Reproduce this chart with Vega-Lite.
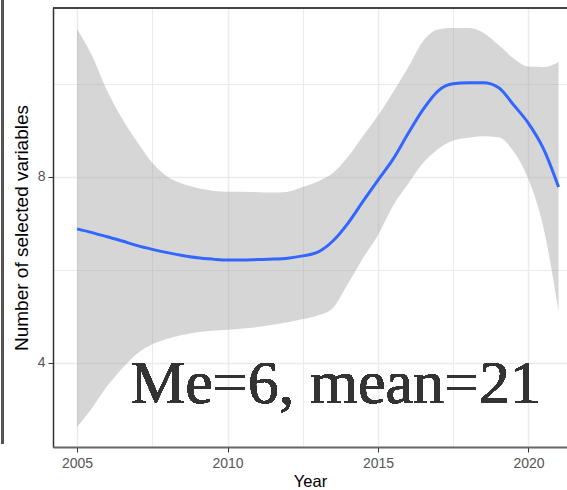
{
  "$schema": "https://vega.github.io/schema/vega-lite/v6.json",
  "width": 514,
  "height": 439,
  "autosize": {"type": "none"},
  "padding": {"left": 53, "top": 8, "right": 0, "bottom": 43},
  "background": "white",
  "config": {
    "view": {"stroke": null},
    "axis": {
      "labelFont": "Liberation Sans",
      "titleFont": "Liberation Sans",
      "labelColor": "#555555",
      "labelFontSize": 14,
      "titleColor": "#000000",
      "titleFontWeight": "normal",
      "tickColor": "#333333",
      "tickSize": 5,
      "domainColor": "#333333",
      "domainWidth": 1.5,
      "gridColor": "#ebebeb"
    }
  },
  "data": {
    "values": [
      {"year": 2005, "lo": 2.62, "fit": 6.88, "hi": 11.18},
      {"year": 2005.5, "lo": 3.03, "fit": 6.80, "hi": 10.6},
      {"year": 2006, "lo": 3.5, "fit": 6.71, "hi": 9.85},
      {"year": 2006.5, "lo": 3.88, "fit": 6.62, "hi": 9.25},
      {"year": 2007, "lo": 4.2, "fit": 6.52, "hi": 8.75},
      {"year": 2007.5, "lo": 4.4, "fit": 6.44, "hi": 8.3},
      {"year": 2008, "lo": 4.52, "fit": 6.37, "hi": 8.0},
      {"year": 2008.5, "lo": 4.6, "fit": 6.31, "hi": 7.85},
      {"year": 2009, "lo": 4.66, "fit": 6.26, "hi": 7.76},
      {"year": 2009.5, "lo": 4.69, "fit": 6.23, "hi": 7.7},
      {"year": 2010, "lo": 4.71, "fit": 6.21, "hi": 7.68},
      {"year": 2010.5, "lo": 4.74, "fit": 6.21, "hi": 7.68},
      {"year": 2011, "lo": 4.77, "fit": 6.22, "hi": 7.67},
      {"year": 2011.5, "lo": 4.82, "fit": 6.23, "hi": 7.66},
      {"year": 2012, "lo": 4.87, "fit": 6.25, "hi": 7.68},
      {"year": 2012.5, "lo": 4.94, "fit": 6.30, "hi": 7.78},
      {"year": 2013, "lo": 5.02, "fit": 6.38, "hi": 7.90},
      {"year": 2013.5, "lo": 5.18, "fit": 6.62, "hi": 8.08},
      {"year": 2014, "lo": 5.70, "fit": 7.00, "hi": 8.43},
      {"year": 2014.5, "lo": 6.25, "fit": 7.47, "hi": 8.88},
      {"year": 2015, "lo": 6.75, "fit": 7.93, "hi": 9.32},
      {"year": 2015.5, "lo": 7.38, "fit": 8.38, "hi": 9.82},
      {"year": 2016, "lo": 7.85, "fit": 8.93, "hi": 10.35},
      {"year": 2016.5, "lo": 8.30, "fit": 9.45, "hi": 10.92},
      {"year": 2017, "lo": 8.60, "fit": 9.85, "hi": 11.17},
      {"year": 2017.5, "lo": 8.78, "fit": 10.00, "hi": 11.20},
      {"year": 2018, "lo": 8.84, "fit": 10.02, "hi": 11.20},
      {"year": 2018.5, "lo": 8.87, "fit": 10.02, "hi": 11.10},
      {"year": 2019, "lo": 8.85, "fit": 9.92, "hi": 10.84},
      {"year": 2019.5, "lo": 8.55, "fit": 9.55, "hi": 10.55},
      {"year": 2020, "lo": 7.94, "fit": 9.15, "hi": 10.37},
      {"year": 2020.5, "lo": 6.90, "fit": 8.60, "hi": 10.36},
      {"year": 2021, "lo": 5.10, "fit": 7.78, "hi": 10.47}
    ]
  },
  "layer": [
    {
      "mark": {"type": "area", "color": "#999999", "opacity": 0.4, "interpolate": "monotone"},
      "encoding": {
        "x": {
          "field": "year", "type": "quantitative", "title": "Year",
          "scale": {"domain": [2004.2, 2021.28], "nice": false, "zero": false},
          "axis": {
            "values": [2005, 2007.5, 2010, 2012.5, 2015, 2017.5, 2020],
            "format": "d",
            "labelExpr": "datum.value % 5 === 0 ? datum.label : ''",
            "tickOpacity": {"condition": {"test": "datum.value % 5 === 0", "value": 1}, "value": 0},
            "gridWidth": {"condition": {"test": "datum.value % 5 === 0", "value": 1.5}, "value": 1},
            "grid": true,
            "labelPadding": 4,
            "titleFontSize": 16.5,
            "titlePadding": 3,
            "domainColor": "#666666",
            "domainWidth": 2
          }
        },
        "y": {
          "field": "lo", "type": "quantitative", "title": "Number of selected variables",
          "scale": {"domain": [2.19, 11.63], "nice": false, "zero": false},
          "axis": {
            "values": [4, 6, 8, 10],
            "labelExpr": "datum.value % 4 === 0 ? datum.label : ''",
            "tickOpacity": {"condition": {"test": "datum.value % 4 === 0", "value": 1}, "value": 0},
            "gridWidth": {"condition": {"test": "datum.value % 4 === 0", "value": 1.5}, "value": 1},
            "grid": true,
            "labelPadding": 3,
            "titleFontSize": 19,
            "titlePadding": 6
          }
        },
        "y2": {"field": "hi"}
      }
    },
    {
      "mark": {"type": "line", "color": "#3366FF", "strokeWidth": 3, "interpolate": "monotone"},
      "encoding": {
        "x": {"field": "year", "type": "quantitative"},
        "y": {"field": "fit", "type": "quantitative"}
      }
    },
    {
      "mark": {"type": "rule", "color": "#444444", "strokeWidth": 1.5},
      "encoding": {"y": {"datum": 11.63}}
    },
    {
      "mark": {"type": "rule", "color": "#555555", "strokeWidth": 2},
      "encoding": {"x": {"datum": 2002.52}, "y": {"datum": 2.27}, "y2": {"datum": 11.8}}
    },
    {
      "mark": {"type": "text", "text": "Me=6, mean=21", "font": "Liberation Serif", "fontSize": 62, "color": "#333333", "align": "center", "baseline": "alphabetic"},
      "encoding": {"x": {"datum": 2013.59}, "y": {"datum": 3.14}}
    }
  ]
}
